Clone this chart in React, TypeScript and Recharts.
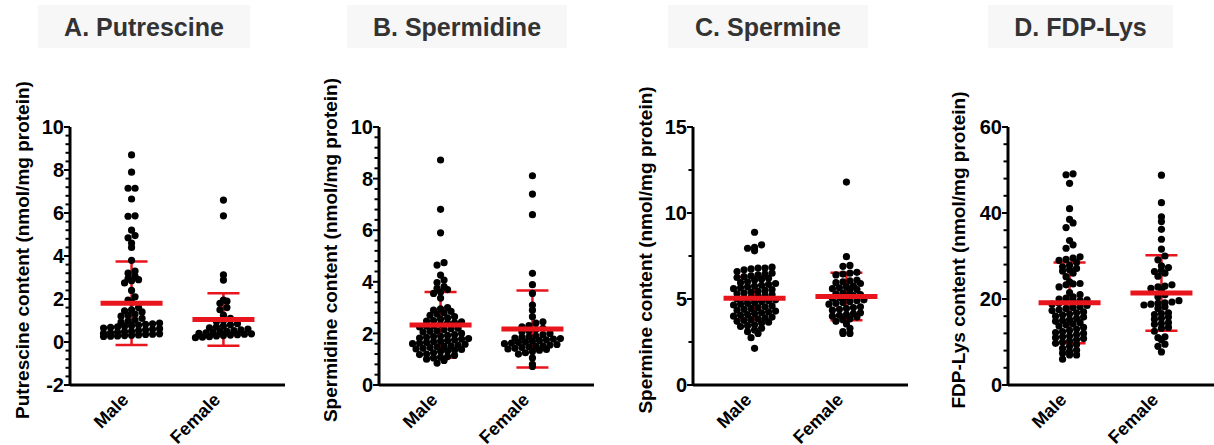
import React from "react";
import { ScatterChart, Scatter, XAxis, YAxis, ErrorBar } from "recharts";

// x categories
const groups = ["Male", "Female"];

// A. Putrescine (nmol/mg protein)
const putrescineMale = [
  8.7, 7.9, 7.15, 7.15, 6.65, 5.87, 5.85, 5.2, 4.95, 4.85, 4.6, 4.4, 3.8, 3.3,
  3.2, 3.05, 2.95, 2.9, 2.85, 2.75, 2.4, 2.1, 1.95, 1.85, 1.6, 1.5, 1.45, 1.4,
  1.3, 1.25, 1.2, 1.1, 1.02, 0.97, 0.92, 0.88, 0.85, 0.82, 0.79, 0.76, 0.73,
  0.7, 0.68, 0.65, 0.62, 0.59, 0.56, 0.53, 0.5, 0.48, 0.45, 0.43, 0.4, 0.38,
  0.36, 0.35, 0.33, 0.31, 0.3, 0.28, 0.27, 0.26,
];
const putrescineFemale = [
  6.6, 5.87, 3.12, 2.88, 1.95, 1.9, 1.8, 1.6, 1.5, 1.25, 1.1, 1.0, 0.95, 0.85,
  0.8, 0.75, 0.7, 0.66, 0.6, 0.56, 0.53, 0.5, 0.48, 0.45, 0.42, 0.4, 0.38,
  0.36, 0.34, 0.32, 0.3, 0.28, 0.25, 0.22, 0.2,
];
const putrescineMean = [1.8, 1.05];
const putrescineSd = [1.94, 1.22];

// B. Spermidine
const spermidineMale = [
  8.72, 6.81, 5.9, 4.74, 4.65, 4.26, 4.07, 3.97, 3.81, 3.75, 3.7, 3.6, 3.55,
  3.37, 3.0, 2.95, 2.9, 2.85, 2.8, 2.75, 2.7, 2.65, 2.6, 2.55, 2.5, 2.48, 2.45,
  2.42, 2.4, 2.35, 2.3, 2.28, 2.25, 2.2, 2.18, 2.15, 2.1, 2.08, 2.05, 2.0,
  1.95, 1.92, 1.9, 1.88, 1.85, 1.82, 1.8, 1.78, 1.75, 1.72, 1.7, 1.68, 1.65,
  1.62, 1.6, 1.58, 1.55, 1.52, 1.5, 1.48, 1.45, 1.42, 1.4, 1.38, 1.35, 1.32,
  1.3, 1.25, 1.2, 1.18, 1.15, 1.1, 1.08, 1.05, 1.0, 0.95, 0.85,
];
const spermidineFemale = [
  8.11, 7.4, 6.6, 4.33, 3.89, 3.55, 3.1, 2.9, 2.65, 2.45, 2.4, 2.3, 2.25, 2.2,
  2.15, 2.1, 2.05, 2.0, 1.95, 1.9, 1.87, 1.85, 1.82, 1.8, 1.78, 1.75, 1.72,
  1.7, 1.67, 1.65, 1.62, 1.6, 1.57, 1.55, 1.52, 1.5, 1.48, 1.45, 1.42, 1.4,
  1.38, 1.35, 1.3, 1.25, 1.2, 1.05, 0.8, 0.72,
];
const spermidineMean = [2.33, 2.17];
const spermidineSd = [1.27, 1.49];

// C. Spermine
const spermineMale = [
  8.88, 8.15, 8.0, 7.95, 7.8, 6.85, 6.8, 6.8, 6.75, 6.7, 6.6, 6.5, 6.45, 6.4,
  6.35, 6.3, 6.25, 6.2, 6.15, 6.1, 6.0, 5.95, 5.9, 5.85, 5.8, 5.75, 5.7, 5.65,
  5.6, 5.55, 5.5, 5.45, 5.4, 5.35, 5.3, 5.25, 5.2, 5.15, 5.1, 5.05, 5.0, 4.95,
  4.9, 4.85, 4.8, 4.75, 4.7, 4.65, 4.6, 4.55, 4.5, 4.45, 4.4, 4.35, 4.3, 4.25,
  4.2, 4.15, 4.1, 4.05, 4.0, 3.95, 3.9, 3.85, 3.8, 3.75, 3.7, 3.65, 3.6, 3.5,
  3.45, 3.4, 3.3, 3.2, 3.1, 3.0, 2.75, 2.13,
];
const spermineFemale = [
  11.8, 7.46, 6.95, 6.9, 6.55, 6.5, 6.45, 6.4, 6.1, 6.05, 6.0, 5.95, 5.9, 5.75,
  5.7, 5.65, 5.6, 5.55, 5.5, 5.35, 5.3, 5.25, 5.2, 5.15, 5.1, 5.05, 4.95, 4.9,
  4.85, 4.8, 4.75, 4.7, 4.55, 4.5, 4.45, 4.4, 4.35, 4.2, 4.15, 4.1, 4.05, 4.0,
  3.95, 3.85, 3.8, 3.7, 3.55, 3.3, 3.1, 3.0, 3.0,
];
const spermineMean = [5.05, 5.15];
const spermineSd = [1.24, 1.38];

// D. FDP-Lys
const fdpLysMale = [
  49.1, 48.9, 46.9, 41.0, 38.5, 37.7, 36.6, 33.6, 32.6, 31.8, 29.8, 29.5, 29.2,
  29.0, 28.5, 27.8, 27.5, 27.1, 26.8, 26.5, 26.0, 25.2, 24.0, 23.6, 23.5, 23.3,
  22.8, 21.5, 21.0, 20.5, 20.2, 20.0, 19.8, 19.6, 19.5, 19.3, 19.0, 18.8, 18.5,
  18.2, 18.0, 17.8, 17.5, 17.3, 17.0, 16.8, 16.5, 16.3, 16.0, 15.8, 15.5, 15.2,
  15.0, 14.8, 14.5, 14.2, 14.0, 13.7, 13.4, 13.0, 12.7, 12.4, 12.2, 12.0, 11.7,
  11.4, 11.2, 11.0, 10.8, 10.5, 10.2, 10.0, 9.7, 9.4, 9.0, 8.5, 8.1, 7.8, 7.4,
  7.0, 7.0, 6.0,
];
const fdpLysFemale = [
  48.8, 42.4, 39.1, 38.0, 36.2, 33.9, 31.6, 30.0, 29.1, 27.7, 27.3, 26.6, 26.4,
  26.0, 25.3, 23.3, 23.0, 22.8, 22.5, 22.2, 21.0, 20.5, 19.6, 19.3, 19.1, 19.0,
  18.8, 18.6, 18.2, 17.8, 16.8, 16.6, 16.4, 15.8, 15.5, 15.3, 14.5, 14.3, 14.1,
  13.4, 13.2, 12.5, 11.2, 11.0, 10.5, 9.5, 9.0, 7.7,
];
const fdpLysMean = [19.1, 21.4];
const fdpLysSd = [9.4, 8.8];

const RED = "#e8151c";
const FONT = '"Liberation Sans", Arial, Helvetica, sans-serif';

const PLOT_W = 215;
const PLOT_H = 258;
const AXIS_W = 60;
const TOP = 127;
const XAXIS_H = 60;
const X_MIN = 0.33;
const X_MAX = 2.67;
const DOT_R = 3.6;
const ROW = 5.5; // px between rows of the dot plot
const SPACE = 7; // px between dots side by side

// GraphPad-like scatter: values that fall in the same pixel row sit side by side
function rowOffsets(values: number[], pxPerUnit: number) {
  const rows = new Map<number, number[]>();
  values.forEach((v, i) => {
    const r = Math.round((v * pxPerUnit) / ROW);
    if (!rows.has(r)) rows.set(r, []);
    rows.get(r)!.push(i);
  });
  const out: number[] = new Array(values.length).fill(0);
  rows.forEach((idx) => {
    idx.sort((a, b) => values[a] - values[b]);
    const k = idx.length;
    idx.forEach((i, j) => {
      out[i] = (j - (k - 1) / 2) * SPACE;
    });
  });
  return out;
}

const Dot = (props: any) => (
  <circle cx={props.cx} cy={props.cy} r={DOT_R} fill="#000" />
);

const MeanBar = (props: any) => (
  <line
    x1={props.cx - 31}
    x2={props.cx + 31}
    y1={props.cy}
    y2={props.cy}
    stroke={RED}
    strokeWidth={5}
  />
);

const makeYTick = (majorStep: number) => (props: any) => {
  const { x, y, payload } = props;
  const v = payload.value;
  const major = Math.abs(v / majorStep - Math.round(v / majorStep)) < 1e-6;
  return (
    <g>
      <line x1={x} x2={x - (major ? 6 : 4.5)} y1={y} y2={y} stroke="#000" strokeWidth={2} />
      {major && (
        <text
          x={x - 6}
          y={y}
          dy="0.36em"
          textAnchor="end"
          fontFamily={FONT}
          fontWeight={700}
          fontSize={20}
          fill="#000"
        >
          {v}
        </text>
      )}
    </g>
  );
};

const XTick = (props: any) => {
  const { x, y, payload } = props;
  return (
    <text
      transform={`translate(${x - 2},${y + 16}) rotate(-45)`}
      textAnchor="end"
      fontFamily={FONT}
      fontWeight={700}
      fontSize={18}
      fill="#000"
    >
      {groups[payload.value - 1]}
    </text>
  );
};

type PanelProps = {
  axisX: number;
  title: string;
  boxLeft: number;
  boxWidth: number;
  yLabel: string;
  yLabelX: number;
  yMin: number;
  yMax: number;
  step: number;
  majorStep: number;
  male: number[];
  female: number[];
  mean: number[];
  sd: number[];
};

function Panel(p: PanelProps) {
  const pxY = PLOT_H / (p.yMax - p.yMin);
  const pxX = PLOT_W / (X_MAX - X_MIN);
  const offM = rowOffsets(p.male, pxY);
  const offF = rowOffsets(p.female, pxY);
  const points = [
    ...p.male.map((v, k) => ({ x: 1 + offM[k] / pxX, y: v })),
    ...p.female.map((v, k) => ({ x: 2 + offF[k] / pxX, y: v })),
  ];
  const stats = groups.map((_, k) => ({ x: k + 1, y: p.mean[k], sd: p.sd[k] }));
  const n = Math.round((p.yMax - p.yMin) / p.step);
  const ticks = Array.from({ length: n + 1 }, (_, i) => +(p.yMin + i * p.step).toFixed(4));

  return (
    <>
      <div
        style={{
          position: "absolute",
          left: p.boxLeft,
          top: 5,
          width: p.boxWidth,
          height: 43,
          background: "#f7f7f7",
          color: "#333",
          fontFamily: FONT,
          fontWeight: 700,
          fontSize: 25,
          lineHeight: "45px",
          textAlign: "center",
          whiteSpace: "nowrap",
        }}
      >
        {p.title}
      </div>
      <div
        style={{
          position: "absolute",
          left: p.yLabelX,
          top: 250,
          transform: "translate(-50%, -50%) rotate(-90deg)",
          fontFamily: FONT,
          fontWeight: 700,
          fontSize: 19,
          lineHeight: 1,
          whiteSpace: "nowrap",
          color: "#000",
        }}
      >
        {p.yLabel}
      </div>
      <div style={{ position: "absolute", left: p.axisX - AXIS_W, top: 0 }}>
        <ScatterChart
          width={AXIS_W + PLOT_W}
          height={TOP + PLOT_H + XAXIS_H}
          margin={{ top: TOP, right: 0, bottom: 0, left: 0 }}
        >
          <XAxis
            type="number"
            dataKey="x"
            domain={[X_MIN, X_MAX]}
            ticks={[1, 2]}
            allowDataOverflow
            height={XAXIS_H}
            tickSize={0}
            tickMargin={0}
            tickLine={false}
            axisLine={{ stroke: "#000", strokeWidth: 3 }}
            tick={<XTick />}
            interval={0}
          />
          <YAxis
            type="number"
            dataKey="y"
            domain={[p.yMin, p.yMax]}
            ticks={ticks}
            allowDataOverflow
            width={AXIS_W}
            tickSize={0}
            tickMargin={0}
            tickLine={false}
            axisLine={{ stroke: "#000", strokeWidth: 3 }}
            tick={makeYTick(p.majorStep)}
            interval={0}
          />
          <Scatter data={points} shape={<Dot />} isAnimationActive={false} />
          <Scatter data={stats} shape={<MeanBar />} isAnimationActive={false}>
            <ErrorBar
              dataKey="sd"
              direction="y"
              width={16}
              stroke={RED}
              strokeWidth={2.5}
              isAnimationActive={false}
            />
          </Scatter>
        </ScatterChart>
      </div>
    </>
  );
}

export default function App() {
  return (
    <div
      style={{
        position: "absolute",
        left: 0,
        top: 0,
        width: 1214,
        height: 445,
        overflow: "hidden",
        background: "#fff",
      }}
    >
      <Panel
        axisX={70}
        title="A. Putrescine"
        boxLeft={38}
        boxWidth={212}
        yLabel="Putrescine content (nmol/mg protein)"
        yLabelX={22}
        yMin={-2}
        yMax={10}
        step={0.4}
        majorStep={2}
        male={putrescineMale}
        female={putrescineFemale}
        mean={putrescineMean}
        sd={putrescineSd}
      />
      <Panel
        axisX={379}
        title="B. Spermidine"
        boxLeft={347}
        boxWidth={220}
        yLabel="Spermidine content (nmol/mg protein)"
        yLabelX={330}
        yMin={0}
        yMax={10}
        step={0.4}
        majorStep={2}
        male={spermidineMale}
        female={spermidineFemale}
        mean={spermidineMean}
        sd={spermidineSd}
      />
      <Panel
        axisX={693}
        title="C. Spermine"
        boxLeft={668}
        boxWidth={200}
        yLabel="Spermine content (nmol/mg protein)"
        yLabelX={645}
        yMin={0}
        yMax={15}
        step={2.5}
        majorStep={5}
        male={spermineMale}
        female={spermineFemale}
        mean={spermineMean}
        sd={spermineSd}
      />
      <Panel
        axisX={1008}
        title="D. FDP-Lys"
        boxLeft={988}
        boxWidth={185}
        yLabel="FDP-Lys content (nmol/mg protein)"
        yLabelX={958}
        yMin={0}
        yMax={60}
        step={4}
        majorStep={20}
        male={fdpLysMale}
        female={fdpLysFemale}
        mean={fdpLysMean}
        sd={fdpLysSd}
      />
    </div>
  );
}
